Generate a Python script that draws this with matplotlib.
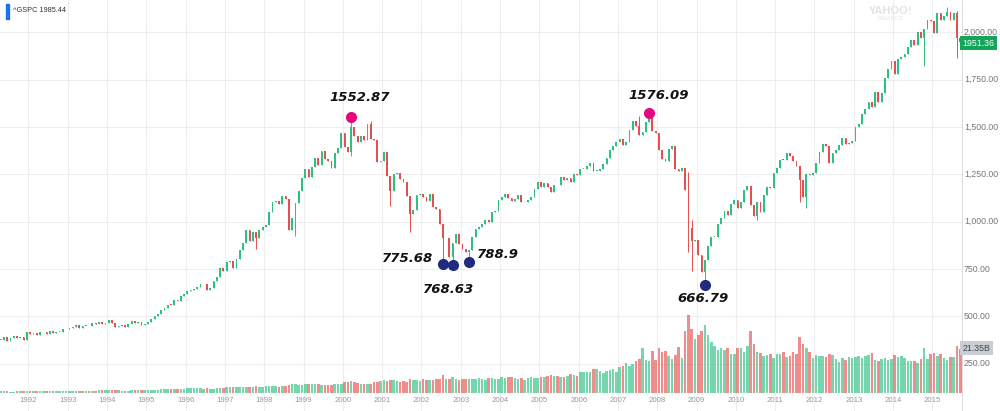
import matplotlib
matplotlib.use("Agg")
import matplotlib.pyplot as plt
from matplotlib.patches import Rectangle
from matplotlib.transforms import blended_transform_factory

# ^GSPC monthly closes, Apr 1991 .. Sep 2015
first_open = 375.22
closes = [
    375.35, 389.83, 371.16, 387.81, 395.43, 387.86, 392.45, 375.22, 417.09,  # 1991
    408.79, 412.70, 403.69, 414.95, 415.35, 408.14, 424.21, 414.03, 417.80, 418.68, 431.35, 435.71,
    438.78, 443.38, 451.67, 440.19, 450.19, 450.53, 448.13, 463.56, 458.93, 467.83, 461.79, 466.45,
    481.61, 467.14, 445.77, 450.91, 456.50, 444.27, 458.26, 475.49, 462.69, 472.35, 453.69, 459.27,
    470.42, 487.39, 500.71, 514.71, 533.40, 544.75, 562.06, 561.88, 584.41, 581.50, 605.37, 615.93,
    636.02, 640.43, 645.50, 654.17, 669.12, 670.63, 639.95, 651.99, 687.31, 705.27, 757.02, 740.74,
    786.16, 790.82, 757.12, 801.34, 848.28, 885.14, 954.31, 899.47, 947.28, 914.62, 955.40, 970.43,
    980.28, 1049.34, 1101.75, 1111.75, 1090.82, 1133.84, 1120.67, 957.28, 1017.01, 1098.67, 1163.63, 1229.23,
    1279.64, 1238.33, 1286.37, 1335.18, 1301.84, 1372.71, 1328.72, 1320.41, 1282.71, 1362.93, 1388.91, 1469.25,
    1394.46, 1366.42, 1498.58, 1452.43, 1420.60, 1454.60, 1430.83, 1517.68, 1436.51, 1429.40, 1314.95, 1320.28,
    1366.01, 1239.94, 1160.33, 1249.46, 1255.82, 1224.42, 1211.23, 1133.58, 1040.94, 1059.78, 1139.45, 1148.08,
    1130.20, 1106.73, 1147.39, 1076.92, 1067.14, 989.82, 911.62, 916.07, 815.28, 885.76, 936.31, 879.82,
    855.70, 841.15, 848.18, 916.92, 963.59, 974.50, 990.31, 1008.01, 995.97, 1050.71, 1058.20, 1111.92,
    1131.13, 1144.94, 1126.21, 1107.30, 1120.68, 1140.84, 1101.72, 1104.24, 1114.58, 1130.20, 1173.82, 1211.92,
    1181.27, 1203.60, 1180.59, 1156.85, 1191.50, 1191.33, 1234.18, 1220.33, 1228.81, 1207.01, 1249.48, 1248.29,
    1280.08, 1280.66, 1294.83, 1310.61, 1270.09, 1270.20, 1276.66, 1303.82, 1335.85, 1377.94, 1400.63, 1418.30,
    1438.24, 1406.82, 1420.86, 1482.37, 1530.62, 1503.35, 1455.27, 1473.99, 1526.75, 1549.38, 1481.14, 1468.36,
    1378.55, 1330.63, 1322.70, 1385.59, 1400.38, 1280.00, 1267.38, 1282.83, 1166.36, 968.75, 896.24, 903.25,
    825.88, 735.09, 797.87, 872.81, 919.14, 919.32, 987.48, 1020.62, 1057.08, 1036.19, 1095.63, 1115.10,
    1073.87, 1104.49, 1169.43, 1186.69, 1089.41, 1030.71, 1101.60, 1049.33, 1141.20, 1183.26, 1180.55, 1257.64,
    1286.12, 1327.22, 1325.83, 1363.61, 1345.20, 1320.64, 1292.28, 1218.89, 1131.42, 1253.30, 1246.96, 1257.60,
    1312.41, 1365.68, 1408.47, 1397.91, 1310.33, 1362.16, 1379.32, 1406.58, 1440.67, 1412.16, 1416.18, 1426.19,
    1498.11, 1514.68, 1569.19, 1597.57, 1630.74, 1606.28, 1685.73, 1632.97, 1681.55, 1756.54, 1805.81, 1848.36,
    1782.59, 1859.45, 1872.34, 1883.95, 1923.57, 1960.23, 1930.67, 2003.37, 1972.29, 2018.05, 2067.56, 2058.90,
    1994.99, 2104.50, 2067.89, 2085.51, 2107.39, 2063.11, 2103.84, 1972.18, 1951.36,  # 2015
]

# wick extremes for the months where they stick out
extra_highs = {"2000-03": 1552.87, "2000-09": 1530.09, "2007-07": 1555.90, "2007-10": 1576.09,
               "2008-10": 1264.80, "2008-11": 1007.51, "2015-05": 2134.72, "2015-08": 2112.66}
extra_lows = {"1997-10": 855.27, "1998-10": 923.32, "2000-03": 1346.62, "2001-03": 1081.19,
              "2001-09": 944.75, "2002-07": 775.68, "2002-10": 768.63, "2003-03": 788.90,
              "2008-10": 839.80, "2008-11": 741.02, "2009-03": 666.79, "2010-07": 1010.91,
              "2011-08": 1101.54, "2011-10": 1074.77, "2014-10": 1820.66, "2015-08": 1867.01}

# volume, billions
volumes = [
    0.8, 0.8, 0.8, 0.7, 0.7, 0.8, 0.8, 0.9, 1.0,
    1.1, 1.0, 0.9, 0.9, 0.9, 0.9, 0.9, 0.8, 0.9, 1.0, 1.0, 1.0,
    1.2, 1.2, 1.2, 1.2, 1.1, 1.2, 1.1, 1.1, 1.2, 1.3, 1.3, 1.3,
    1.4, 1.4, 1.5, 1.3, 1.2, 1.2, 1.2, 1.3, 1.3, 1.4, 1.4, 1.3,
    1.5, 1.5, 1.6, 1.5, 1.7, 1.8, 1.8, 1.7, 1.9, 1.9, 1.9, 1.9,
    2.2, 2.3, 2.2, 2.3, 2.2, 2.0, 2.4, 2.0, 2.1, 2.3, 2.5, 2.4,
    2.7, 2.8, 2.7, 2.8, 2.8, 2.9, 2.8, 2.7, 2.9, 3.6, 2.9, 3.0,
    3.2, 3.3, 3.3, 3.4, 3.1, 3.3, 3.4, 4.1, 4.2, 4.3, 3.8, 3.9,
    4.3, 4.2, 4.2, 4.6, 4.3, 4.1, 3.9, 4.0, 4.1, 4.5, 4.4, 4.6,
    5.3, 5.4, 5.9, 5.4, 4.8, 4.6, 4.3, 4.2, 4.6, 5.5, 5.3, 5.6,
    6.1, 5.6, 6.5, 6.2, 5.6, 5.5, 5.6, 5.3, 6.8, 6.5, 6.1, 5.9,
    6.6, 6.5, 6.2, 6.4, 6.6, 7.0, 8.6, 6.8, 6.6, 7.6, 6.9, 6.3,
    6.8, 6.7, 6.9, 7.0, 7.0, 7.4, 6.9, 6.1, 7.1, 7.3, 6.7, 6.6,
    7.6, 7.4, 7.8, 7.6, 7.2, 7.0, 7.2, 6.4, 7.1, 7.6, 7.4, 7.2,
    7.8, 8.0, 8.1, 8.5, 8.2, 8.3, 8.0, 7.6, 8.4, 9.0, 8.6, 8.3,
    10.0, 10.2, 10.4, 10.0, 11.6, 11.8, 10.6, 9.6, 10.6, 11.4, 11.6, 10.4,
    12.6, 13.0, 14.4, 13.0, 14.2, 15.4, 16.6, 22.0, 15.8, 15.6, 20.6, 16.0,
    22.0, 20.0, 20.4, 17.8, 16.6, 18.6, 22.2, 17.0, 30.0, 38.0, 31.0, 26.0,
    28.0, 30.0, 33.0, 28.0, 25.0, 23.0, 21.0, 22.0, 21.0, 22.0, 19.0, 19.0,
    22.0, 22.0, 20.0, 23.0, 30.0, 24.0, 20.0, 19.5, 18.0, 18.5, 19.0, 17.0,
    19.0, 19.0, 20.0, 17.5, 18.0, 20.0, 19.0, 27.0, 24.0, 22.0, 20.0, 17.0,
    18.5, 18.0, 18.0, 17.5, 19.0, 18.5, 16.5, 15.0, 17.0, 16.0, 17.5, 17.0,
    17.5, 18.0, 17.0, 18.0, 18.5, 19.5, 16.0, 15.5, 16.5, 17.0, 16.0, 16.5,
    18.5, 17.5, 18.0, 17.0, 15.5, 15.5, 15.5, 14.5, 16.5, 22.0, 16.5, 19.0,
    19.5, 18.0, 19.0, 17.0, 16.0, 17.5, 17.5, 23.0, 21.35,
]

years = list(range(1992, 2016))
price_ticks = [250, 500, 750, 1000, 1250, 1500, 1750, 2000]

ann_dates = ["2000-03", "2007-10", "2002-07", "2002-10", "2003-03", "2009-03"]
ann_values = [1552.87, 1576.09, 775.68, 768.63, 788.9, 666.79]
ann_labels = ["1552.87", "1576.09", "775.68", "768.63", "788.9", "666.79"]
ann_colors = ["#e5087f", "#e5087f", "#1f2a80", "#1f2a80", "#1f2a80", "#1f2a80"]
# label offsets in points and alignment
ann_offsets = [(6, 14), (7, 12), (-7, 4), (-3, -17), (6, 5), (-1, -10)]
ann_ha = ["center", "center", "right", "center", "left", "center"]

GREEN = "#2fbf82"
RED = "#e5504f"

# month keys and x positions (decimal years)
keys, xs = [], []
y, m = 1991, 4
for _ in closes:
    keys.append(f"{y}-{m:02d}")
    xs.append(y + (m - 0.5) / 12)
    m += 1
    if m > 12:
        y, m = y + 1, 1
opens = [first_open] + closes[:-1]

fig = plt.figure(figsize=(10, 4.11), dpi=100)
ax = fig.add_axes([0, 0, 0.962, 1])
ax.set_xlim(1991.275, 1991.275 + 962 / 39.3)
ax.set_ylim(0, 2171)
for s in ["top", "left", "bottom"]:
    ax.spines[s].set_visible(False)
ax.spines["right"].set_color("#dddddd")
ax.set_xticks([])
ax.set_yticks([])

for p in price_ticks:
    ax.axhline(p, color="#eeeeee", lw=0.8, zorder=0)
for yr in years:
    ax.axvline(yr, color="#eeeeee", lw=0.8, zorder=0)

# volume on its own scale
vax = ax.twinx()
vax.set_ylim(-8.74, 190.8)
vax.set_xlim(ax.get_xlim())
vax.axis("off")
vcolors = [GREEN if c >= o else RED for o, c in zip(opens, closes)]
vax.bar(xs, volumes, width=0.065, color=vcolors, alpha=0.65, zorder=1)

# candles
for x, o, c, k in zip(xs, opens, closes, keys):
    col = GREEN if c >= o else RED
    hi = max(o, c, extra_highs.get(k, 0))
    lo = min(o, c, extra_lows.get(k, 1e9))
    ax.vlines(x, lo, hi, color=col, lw=0.7, zorder=3)
    ax.bar(x, max(abs(c - o), 3), bottom=min(o, c), width=0.045, color=col, zorder=3)

# annotations
for d, v, lab, col, off, ha in zip(ann_dates, ann_values, ann_labels, ann_colors, ann_offsets, ann_ha):
    x = xs[keys.index(d)]
    ax.plot(x, v, "o", color=col, ms=7, zorder=5)
    ax.annotate(lab, (x, v), xytext=off, textcoords="offset points", ha=ha, va="center",
                fontsize=9.5, fontweight="bold", fontstyle="italic", color="#111111", zorder=6)

# year labels
tr = blended_transform_factory(ax.transData, ax.transAxes)
for yr in years:
    ax.text(yr, 1 - 400 / 411, str(yr), transform=tr, ha="center", va="center",
            fontsize=5.6, color="#999999", family="Liberation Sans")

# price axis labels
for p in price_ticks:
    fig.text(0.964, p / 2171, f"{p:,.2f}", ha="left", va="center",
             fontsize=6.3, color="#777777", family="Liberation Sans")

fig.text(0.9625, 1 - 43 / 411, "1951.36", ha="left", va="center", fontsize=6.3,
         color="white", family="Liberation Sans",
         bbox=dict(boxstyle="square,pad=0.25", fc="#13a65b", ec="none"))
fig.text(0.9625, 1 - 348 / 411, "21.35B", ha="left", va="center", fontsize=6.3,
         color="#444444", family="Liberation Sans",
         bbox=dict(boxstyle="square,pad=0.25", fc="#c9cdd4", ec="none"))

# top-left legend
fig.patches.append(Rectangle((0.006, 1 - 19 / 411), 0.0025, 15 / 411, transform=fig.transFigure,
                             color="#1a73e8"))
fig.text(0.013, 1 - 11 / 411, "^GSPC 1985.44", ha="left", va="center", fontsize=5.3,
         color="#333333", family="Liberation Sans")

# watermark
fig.text(0.891, 1 - 11 / 411, "YAHOO!", ha="center", va="center", fontsize=8,
         fontweight="bold", color="#e4e4e4", family="Liberation Sans")
fig.text(0.891, 1 - 18.5 / 411, "FINANCE", ha="center", va="center", fontsize=4.3,
         color="#e4e4e4", family="Liberation Sans")

fig.savefig("out.png", dpi=100)
